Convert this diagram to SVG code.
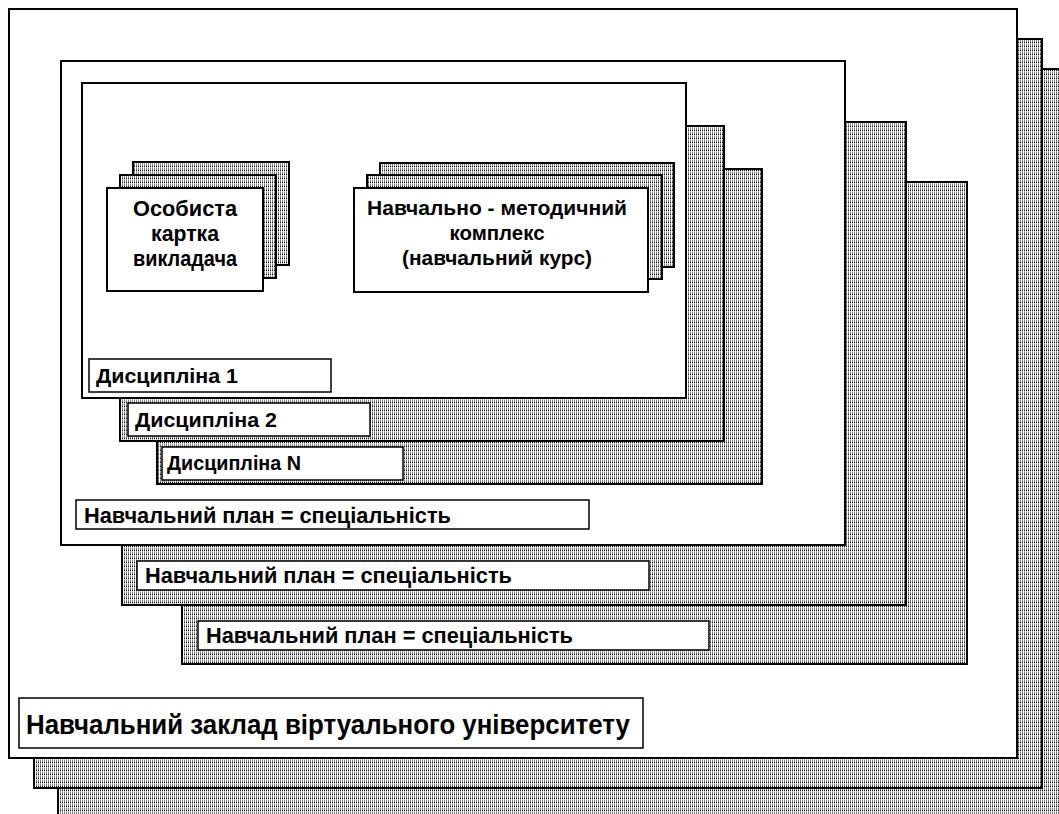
<svg xmlns="http://www.w3.org/2000/svg" width="1059" height="814" viewBox="0 0 1059 814">
<defs>
<pattern id="hatch" width="2" height="4" patternUnits="userSpaceOnUse">
<rect x="0" y="0" width="2" height="4" fill="#ffffff"/>
<rect x="0" y="0" width="1" height="2" fill="#808080"/>
<rect x="0" y="2" width="1" height="1" fill="#111111"/>
<rect x="0" y="3" width="1" height="1" fill="#b8b8b8"/>
</pattern>
</defs>
<style>
.back{fill:url(#hatch);stroke:#000;stroke-width:2}
.front{fill:#fff;stroke:#000;stroke-width:2}
.lbl{fill:#fff;stroke:#000;stroke-width:1.5}
.t{font-family:"Liberation Sans",Arial,sans-serif;font-weight:bold;fill:#000}
.c{text-anchor:middle}
</style>
<rect width="1059" height="814" fill="#fff"/>

<g id="university">
<rect class="back" x="58" y="69" width="1010" height="760"/>
<rect class="back" x="34" y="39" width="1008" height="749"/>
<rect class="front" x="9" y="9" width="1008" height="749"/>
<rect class="lbl" x="19" y="698" width="624" height="50"/>
<text class="t" x="26" y="734" font-size="28" textLength="604" lengthAdjust="spacingAndGlyphs">Навчальний заклад віртуального університету</text>
</g>

<g id="curriculum-3">
<rect class="back" x="182" y="182" width="785" height="482"/>
<rect class="lbl" x="198" y="621" width="511" height="29"/>
<text class="t" x="206" y="643" font-size="22" textLength="367" lengthAdjust="spacingAndGlyphs">Навчальний план = спеціальність</text>
</g>
<g id="curriculum-2">
<rect class="back" x="122" y="122" width="784" height="483"/>
<rect class="lbl" x="137" y="561" width="512" height="29"/>
<text class="t" x="145" y="583" font-size="22" textLength="367" lengthAdjust="spacingAndGlyphs">Навчальний план = спеціальність</text>
</g>
<g id="curriculum-1">
<rect class="front" x="61" y="61" width="784" height="484"/>
<rect class="lbl" x="76" y="500" width="513" height="29"/>
<text class="t" x="84" y="523" font-size="22" textLength="367" lengthAdjust="spacingAndGlyphs">Навчальний план = спеціальність</text>
</g>

<g id="discipline-n">
<rect class="back" x="157" y="169" width="605" height="315"/>
<rect class="lbl" x="162" y="447" width="241" height="33"/>
<text class="t" x="167" y="470" font-size="20" textLength="134" lengthAdjust="spacingAndGlyphs">Дисципліна N</text>
</g>
<g id="discipline-2">
<rect class="back" x="120" y="126" width="604" height="315"/>
<rect class="lbl" x="128" y="403" width="242" height="33"/>
<text class="t" x="135" y="427" font-size="20" textLength="142" lengthAdjust="spacingAndGlyphs">Дисципліна 2</text>
</g>
<g id="discipline-1">
<rect class="front" x="82" y="83" width="604" height="315"/>
<rect class="lbl" x="89" y="359" width="242" height="33"/>
<text class="t" x="96" y="383" font-size="20" textLength="142" lengthAdjust="spacingAndGlyphs">Дисципліна 1</text>
</g>

<g id="teacher-card">
<rect class="back" x="133" y="162" width="156" height="103"/>
<rect class="back" x="120" y="175" width="156" height="103"/>
<rect class="front" x="107" y="188" width="156" height="103"/>
<text class="t c" x="185" y="216" font-size="22" textLength="104" lengthAdjust="spacingAndGlyphs">Особиста</text>
<text class="t c" x="185" y="241" font-size="22" textLength="68" lengthAdjust="spacingAndGlyphs">картка</text>
<text class="t c" x="185" y="266" font-size="22" textLength="104" lengthAdjust="spacingAndGlyphs">викладача</text>
</g>

<g id="course-complex">
<rect class="back" x="380" y="163" width="294" height="104"/>
<rect class="back" x="367" y="175" width="295" height="104"/>
<rect class="front" x="354" y="188" width="294" height="104"/>
<text class="t c" x="497" y="215" font-size="21" textLength="260" lengthAdjust="spacingAndGlyphs">Навчально - методичний</text>
<text class="t c" x="497" y="240" font-size="21" textLength="95" lengthAdjust="spacingAndGlyphs">комплекс</text>
<text class="t c" x="497" y="265" font-size="21" textLength="190" lengthAdjust="spacingAndGlyphs">(навчальний курс)</text>
</g>
</svg>
